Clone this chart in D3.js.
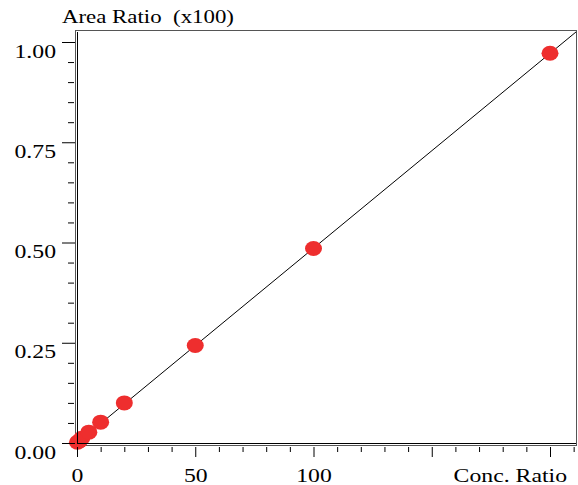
<!DOCTYPE html>
<html>
<head>
<meta charset="utf-8">
<script src="https://cdn.jsdelivr.net/npm/d3@7"></script>
<style>
  body { margin: 0; background: #fff; }
  svg text { font-family: "Liberation Serif", "Times New Roman", serif; font-size: 18px; fill: #000; white-space: pre; }
</style>
</head>
<body>
<svg></svg>
<script>
let conc = [0.2, 1, 2, 5, 10, 20, 50, 100, 200]
let areaRatio = [0.002, 0.005, 0.012, 0.027, 0.052, 0.1, 0.243, 0.485, 0.972]

let xMajor = [0, 50, 100, 150, 200]
let xLabels = ["0", "50", "100"]
let yMajor = [0, 0.25, 0.5, 0.75, 1.0]

// fitted calibration line
let slope = 0.004858
let intercept = 0

let width = 578
let height = 485
let stretch = 1.32

let svg = d3.select("svg")
    .attr("width", width)
    .attr("height", height)

let xScale = d3.scaleLinear()
    .domain([0, 200])
    .range([77, 550])

let yScale = d3.scaleLinear()
    .domain([0, 1])
    .range([443, 42])

let xMax = xScale.invert(576)

let xMinor = d3.range(0, xMax, 10).filter((v) => v % 50 !== 0)
let yMinor = d3.range(0, 1.001, 0.05).map((v) => +v.toFixed(2)).filter((v) => Math.round(v * 100) % 25 !== 0)

// frame
svg.append("rect")
    .attr("x", 75.5)
    .attr("y", 30.5)
    .attr("width", 576 - 75)
    .attr("height", 445 - 30)
    .attr("fill", "none")
    .attr("stroke", "#555")

// regression line
let line = d3.line()
    .x((d) => xScale(d))
    .y((d) => yScale(intercept + slope * d))

svg.append("path")
    .datum([0, xMax])
    .attr("d", line)
    .attr("fill", "none")
    .attr("stroke", "#000")
    .attr("stroke-width", 1)

// points
svg.selectAll(".dot")
    .data(conc)
    .enter()
    .append("ellipse")
    .attr("class", "dot")
    .attr("cx", (d) => xScale(d))
    .attr("cy", (d, i) => yScale(areaRatio[i]))
    .attr("rx", 8.5)
    .attr("ry", 7.5)
    .attr("fill", "#ee2e2e")

// inner axis lines
svg.append("line")
    .attr("x1", 77.5).attr("x2", 77.5)
    .attr("y1", 32).attr("y2", 444)
    .attr("stroke", "#000")

svg.append("line")
    .attr("x1", 77).attr("x2", 576)
    .attr("y1", 443.5).attr("y2", 443.5)
    .attr("stroke", "#000")

// y axis ticks
let yMinorAxis = d3.axisLeft(yScale).tickValues(yMinor).tickSize(6).tickFormat("")
svg.append("g")
    .attr("transform", "translate(74,0)")
    .call(yMinorAxis)
    .call((g) => g.select(".domain").remove())

let yAxis = d3.axisLeft(yScale).tickValues(yMajor).tickSize(13).tickFormat(d3.format(".2f"))
svg.append("g")
    .attr("transform", "translate(75,0)")
    .call(yAxis)
    .call((g) => g.select(".domain").remove())
    .call((g) => g.selectAll("text")
        .attr("x", null)
        .attr("dy", null)
        .attr("text-anchor", "end")
        .attr("transform", "translate(-19,15) scale(" + stretch + ",1)"))
    .attr("font-family", null)
    .attr("font-size", null)

// x axis ticks
let xMinorAxis = d3.axisBottom(xScale).tickValues(xMinor).tickSize(5).tickFormat("")
svg.append("g")
    .attr("transform", "translate(0,447)")
    .call(xMinorAxis)
    .call((g) => g.select(".domain").remove())

let xAxis = d3.axisBottom(xScale).tickValues(xMajor).tickSize(10)
    .tickFormat((d, i) => i < xLabels.length ? xLabels[i] : "")
svg.append("g")
    .attr("transform", "translate(0,447)")
    .call(xAxis)
    .call((g) => g.select(".domain").remove())
    .call((g) => g.selectAll("text")
        .attr("y", null)
        .attr("dy", null)
        .attr("text-anchor", "middle")
        .attr("transform", "translate(0,34.5) scale(" + stretch + ",1)"))
    .attr("font-family", null)
    .attr("font-size", null)

// axis titles
svg.append("text")
    .text("Conc. Ratio")
    .attr("text-anchor", "end")
    .attr("transform", "translate(567,481.5) scale(" + stretch + ",1)")

svg.append("text")
    .text("Area Ratio  (x100)")
    .attr("transform", "translate(62,23) scale(" + (stretch - 0.05) + ",1)")
</script>
</body>
</html>
